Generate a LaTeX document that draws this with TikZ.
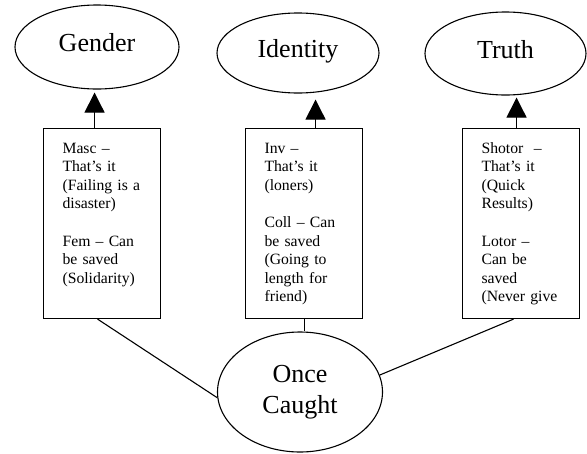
\documentclass[tikz,border=0pt]{standalone}
\usepackage{fontspec}
\setmainfont{Liberation Serif}
\usetikzlibrary{shapes.geometric,arrows.meta}

\begin{document}
\begin{tikzpicture}[x=1pt,y=-1pt,line width=1.1pt,
  topic/.style={draw,ellipse,inner sep=0pt,minimum width=164pt,minimum height=84pt,
    font=\fontsize{26}{31}\selectfont},
  toptopic/.style={topic,text height=17pt,text depth=8pt},
  notebox/.style={draw,rectangle,anchor=north west,text width=79pt,inner xsep=19pt,
    inner ysep=12pt,text height=12.6pt,text depth=153.4pt,align=left,
    font=\fontsize{15.7}{18.6}\selectfont},
  toparrow/.style={-{Triangle[length=20pt,width=20pt]}}]
\useasboundingbox (0,0) rectangle (587,453);

% the three topics
\node[toptopic] (gender) at (97,47) {Gender};
\node[toptopic,minimum width=162pt,minimum height=80pt] (identity) at (298,53) {Identity};
\node[toptopic,minimum width=161pt,minimum height=83pt] (truth) at (505.5,53.5) {Truth};
\node[topic,minimum width=165pt,minimum height=120pt,align=center] (once) at (300,392) {Once\\Caught};

% notes
\node[notebox] (gbox) at (43,128) {Masc --\\That's it\\(Failing is a\\disaster)\\[18.6pt]Fem -- Can\\be saved\\(Solidarity)};
\node[notebox] (ibox) at (245,128) {Inv --\\That's it\\(loners)\\[18.6pt]Coll -- Can\\be saved\\(Going to\\length for\\friend)};
\node[notebox] (tbox) at (462,128) {Shotor~ --\\That's it\\(Quick\\Results)\\[18.6pt]Lotor --\\Can be\\saved\\(Never give};

\draw[toparrow,shorten >=3pt] ([xshift=-7.5pt]gbox.north) -- ([xshift=-7.5pt]gbox.north |- gender.south);
\draw[toparrow,shorten >=6pt] ([xshift=11.5pt]ibox.north) -- ([xshift=11.5pt]ibox.north |- identity.south);
\draw[toparrow,shorten >=2pt] ([xshift=-4.5pt]tbox.north) -- ([xshift=-4.5pt]tbox.north |- truth.south);

\draw ([xshift=-4.5pt]gbox.south) -- (once.184);
\draw (ibox.south) -- (ibox.south |- once.north);
\draw ([xshift=-7.5pt]tbox.south) -- (once.12);
\end{tikzpicture}
\end{document}
